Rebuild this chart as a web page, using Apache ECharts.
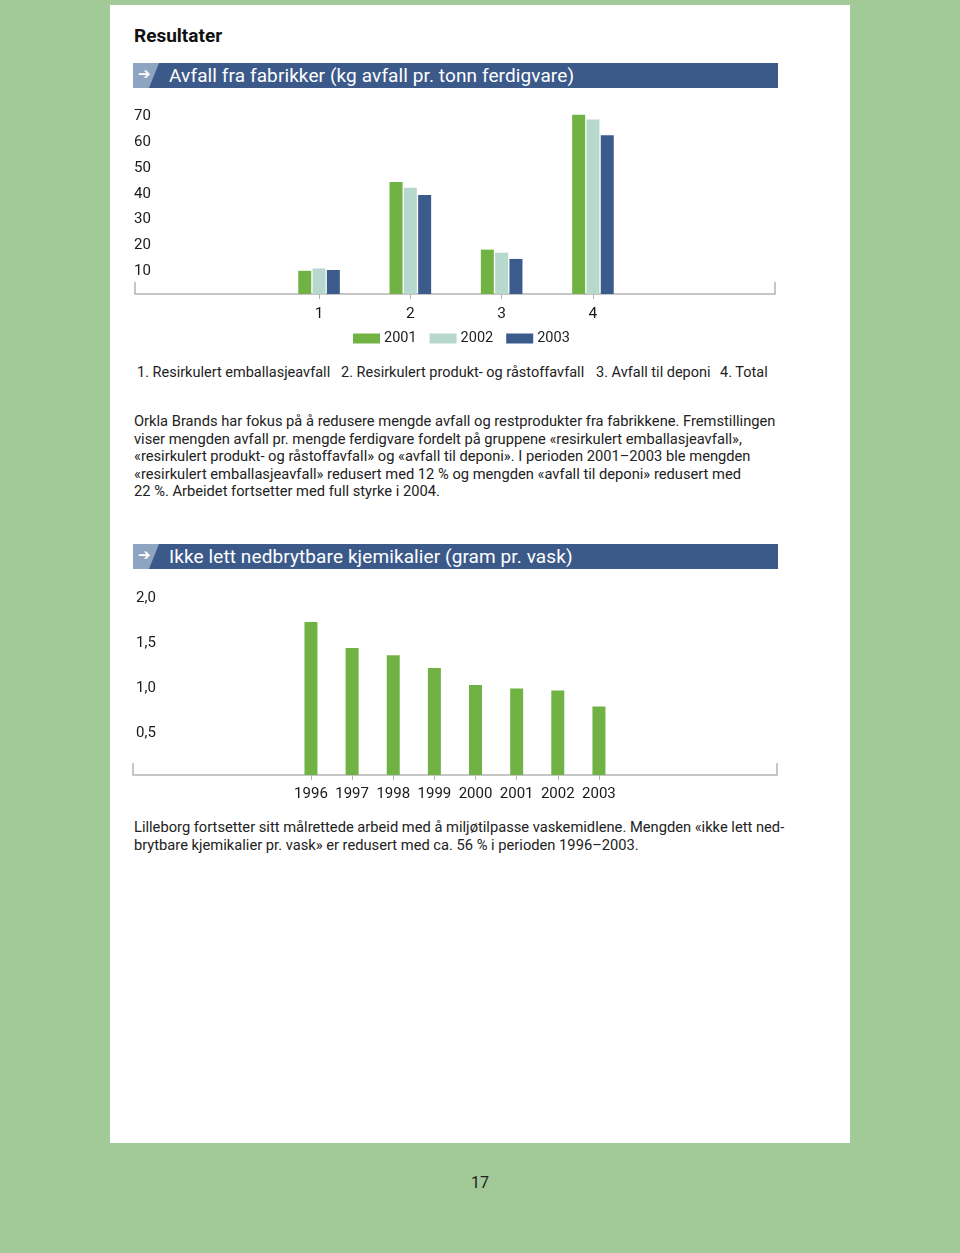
<!DOCTYPE html>
<html>
<head>
<meta charset="utf-8">
<script src="https://cdn.jsdelivr.net/npm/echarts@6/dist/echarts.min.js"></script>
<style>
  html, body { margin: 0; padding: 0; }
  body { width: 960px; height: 1253px; background: #a1ca98; position: relative; overflow: hidden;
         font-family: Roboto, "Noto Sans", sans-serif; color: #1a1a1a; }
  .panel { position: absolute; left: 110px; top: 5px; width: 740px; height: 1138px; background: #fff; }
  .abs { position: absolute; white-space: nowrap; }
  .h1 { left: 134px; top: 24px; font-size: 19px; font-weight: bold; color: #111; line-height: 24px; }
  .bar { position: absolute; left: 133px; width: 645px; height: 25px; background: #3b5a8a; }
  .bar .lite { position: absolute; left: 0; top: 0; width: 26px; height: 25px; background: #8ea5c1;
               clip-path: polygon(0 0, 26px 0, 16px 25px, 0 25px); }
  .bar .arrow { position: absolute; left: 5px; top: 0px; font-size: 15px; color: #fff; line-height: 22px; font-family: "DejaVu Sans", sans-serif; }
  .bar .ttl { position: absolute; left: 36px; top: 0; font-size: 19px; color: #fff; line-height: 25px; letter-spacing: 0.1px; }
  .txt { font-size: 14.7px; line-height: 17.5px; color: #222; }
  .cat { font-size: 14.5px; color: #222; line-height: 18px; top: 364px; }
  #c1 { position: absolute; left: 110px; top: 95px; width: 740px; height: 260px; }
  #c2 { position: absolute; left: 110px; top: 575px; width: 740px; height: 240px; }
</style>
</head>
<body>
<div class="panel"></div>
<div class="abs h1">Resultater</div>

<div class="bar" style="top:63px;"><div class="lite"></div><div class="arrow">➔</div><div class="ttl">Avfall fra fabrikker (kg avfall pr. tonn ferdigvare)</div></div>
<div id="c1"></div>
<div class="abs cat" style="left:137px;">1. Resirkulert emballasjeavfall</div>
<div class="abs cat" style="left:341px;">2. Resirkulert produkt- og råstoffavfall</div>
<div class="abs cat" style="left:596px;">3. Avfall til deponi</div>
<div class="abs cat" style="left:720px;">4. Total</div>

<div class="abs txt" style="left:134px; top:413px;">Orkla Brands har fokus på å redusere mengde avfall og restprodukter fra fabrikkene. Fremstillingen<br>viser mengden avfall pr. mengde ferdigvare fordelt på gruppene «resirkulert emballasjeavfall»,<br>«resirkulert produkt- og råstoffavfall» og «avfall til deponi». I perioden 2001–2003 ble mengden<br>«resirkulert emballasjeavfall» redusert med 12 % og mengden «avfall til deponi» redusert med<br>22 %. Arbeidet fortsetter med full styrke i 2004.</div>

<div class="bar" style="top:544px;"><div class="lite"></div><div class="arrow">➔</div><div class="ttl">Ikke lett nedbrytbare kjemikalier (gram pr. vask)</div></div>
<div id="c2"></div>

<div class="abs txt" style="left:134px; top:819px;">Lilleborg fortsetter sitt målrettede arbeid med å miljøtilpasse vaskemidlene. Mengden «ikke lett ned-<br>brytbare kjemikalier pr. vask» er redusert med ca. 56 % i perioden 1996–2003.</div>

<div class="abs" style="left:0; width:960px; text-align:center; top:1173px; font-size:16px; color:#222;">17</div>

<script>
// ---- Data: chart 1 (kg avfall pr. tonn ferdigvare) ----
const groupCategories = ['1', '2', '3', '4'];
const seriesNames = ['2001', '2002', '2003'];
const values2001 = [9.0, 43.4, 17.2, 69.5];
const values2002 = [9.9, 41.2, 16.0, 67.6];
const values2003 = [9.3, 38.4, 13.6, 61.5];
const yTicks1 = { min: 0, max: 70, interval: 10 };

// ---- Data: chart 2 (gram pr. vask) ----
const chemYears = ['1996', '1997', '1998', '1999', '2000', '2001', '2002', '2003'];
const chemValues = [1.70, 1.41, 1.33, 1.19, 1.00, 0.96, 0.94, 0.76];
const yTicks2 = { min: 0, max: 2, interval: 0.5 };

const GREEN = '#70b244', LIGHT = '#b7d8cd', BLUE = '#3a5b8c', AXIS = '#b4b4b4', TXT = '#1a1a1a';
const FONT = 'Roboto';
const yRich = { t: { fontSize: 15, color: TXT, fontFamily: FONT, padding: [6, 0, 0, 0] } };

// Chart 1
const c1 = echarts.init(document.getElementById('c1'));
c1.setOption({
  animation: false,
  textStyle: { fontFamily: FONT },
  grid: [
    { left: 25, right: 75, top: 18.4, height: 180.6 },
    { left: 163.4, width: 365.2, top: 18.4, height: 180.6 }
  ],
  xAxis: [
    { gridIndex: 0, type: 'value', min: 0, max: 1, interval: 1,
      axisLine: { show: true, lineStyle: { color: AXIS, width: 1.5 } },
      axisTick: { show: true, inside: true, length: 12, lineStyle: { color: AXIS, width: 1.5 } },
      axisLabel: { show: false }, splitLine: { show: false } },
    { gridIndex: 1, type: 'category', data: groupCategories,
      axisLine: { show: false },
      axisTick: { show: true, alignWithLabel: true, length: 5, lineStyle: { color: AXIS } },
      axisLabel: { color: TXT, fontSize: 15.5, margin: 12, interval: 0, fontFamily: FONT } }
  ],
  yAxis: [
    { gridIndex: 0, type: 'value', min: yTicks1.min, max: yTicks1.max, interval: yTicks1.interval,
      axisLine: { show: false }, axisTick: { show: false }, splitLine: { show: false },
      axisLabel: { align: 'left', margin: 1, rich: yRich,
                   formatter: v => v === 0 ? '' : '{t|' + v + '}' } },
    { gridIndex: 1, type: 'value', min: yTicks1.min, max: yTicks1.max, show: false }
  ],
  legend: {
    data: seriesNames, left: 238, top: 231, itemWidth: 27, itemHeight: 10, itemGap: 13,
    icon: 'rect', textStyle: { fontSize: 14.5, color: '#222', fontFamily: FONT, padding: [0, 0, 0, -1] }
  },
  series: [
    { name: seriesNames[0], type: 'bar', xAxisIndex: 1, yAxisIndex: 1, data: values2001, barWidth: 13, barGap: '10%', itemStyle: { color: GREEN } },
    { name: seriesNames[1], type: 'bar', xAxisIndex: 1, yAxisIndex: 1, data: values2002, barWidth: 13, barGap: '10%', itemStyle: { color: LIGHT } },
    { name: seriesNames[2], type: 'bar', xAxisIndex: 1, yAxisIndex: 1, data: values2003, barWidth: 13, barGap: '10%', itemStyle: { color: BLUE } }
  ]
});

// Chart 2
const c2 = echarts.init(document.getElementById('c2'));
c2.setOption({
  animation: false,
  textStyle: { fontFamily: FONT },
  grid: [
    { left: 23, right: 73, top: 20, height: 180 },
    { left: 180.4, width: 329.1, top: 20, height: 180 }
  ],
  xAxis: [
    { gridIndex: 0, type: 'value', min: 0, max: 1, interval: 1,
      axisLine: { show: true, lineStyle: { color: AXIS, width: 1.5 } },
      axisTick: { show: true, inside: true, length: 12, lineStyle: { color: AXIS, width: 1.5 } },
      axisLabel: { show: false }, splitLine: { show: false } },
    { gridIndex: 1, type: 'category', data: chemYears,
      axisLine: { show: false },
      axisTick: { show: true, alignWithLabel: true, length: 5, interval: 0, lineStyle: { color: AXIS } },
      axisLabel: { color: TXT, fontSize: 15, margin: 12, interval: 0, hideOverlap: false, fontFamily: FONT } }
  ],
  yAxis: [
    { gridIndex: 0, type: 'value', min: yTicks2.min, max: yTicks2.max, interval: yTicks2.interval,
      axisLine: { show: false }, axisTick: { show: false }, splitLine: { show: false },
      axisLabel: { align: 'left', margin: -3, rich: yRich,
                   formatter: v => v === 0 ? '' : '{t|' + v.toFixed(1).replace('.', ',') + '}' } },
    { gridIndex: 1, type: 'value', min: yTicks2.min, max: yTicks2.max, show: false }
  ],
  series: [
    { type: 'bar', xAxisIndex: 1, yAxisIndex: 1, data: chemValues, barWidth: 13, itemStyle: { color: GREEN } }
  ]
});
</script>
</body>
</html>
